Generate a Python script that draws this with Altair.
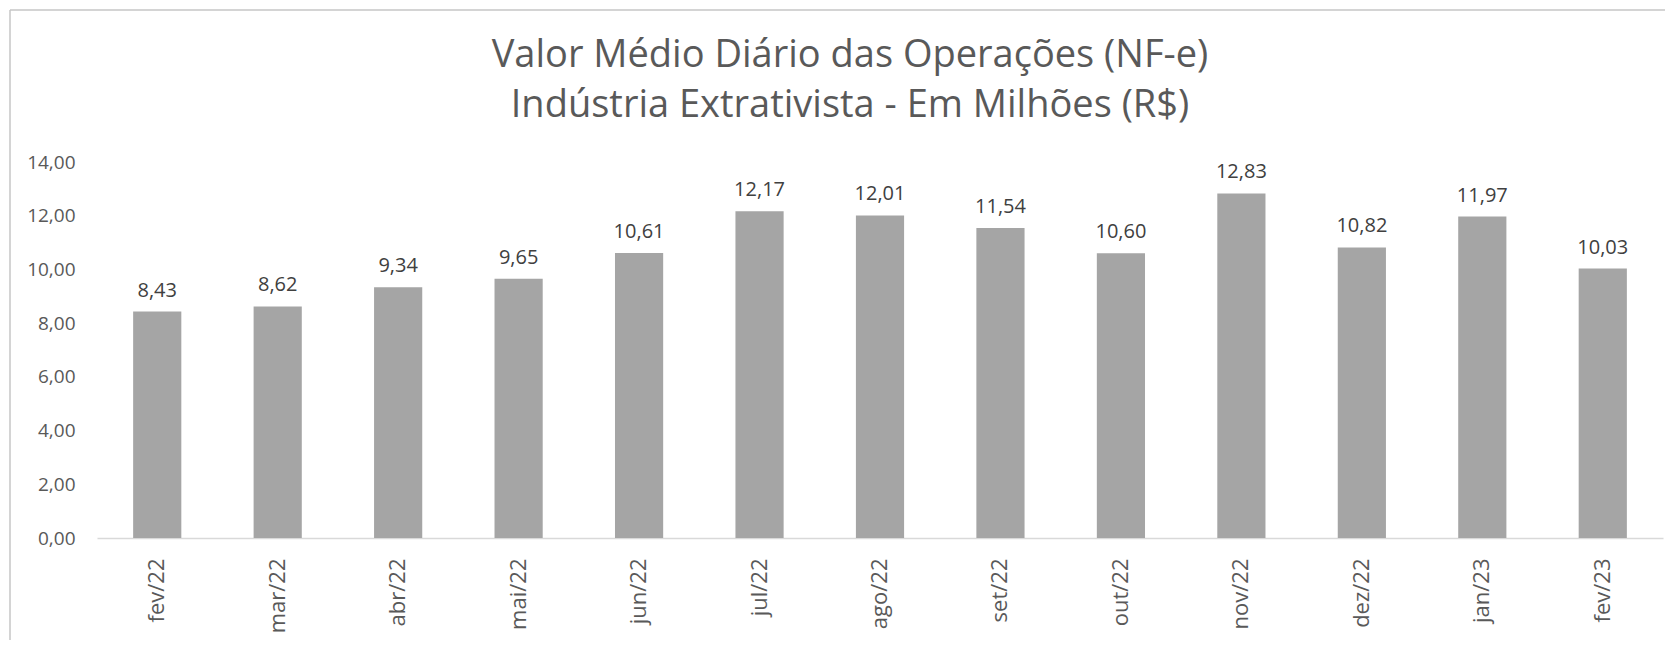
import altair as alt
import pandas as pd

# ---- data ----
MESES = ["fev/22", "mar/22", "abr/22", "mai/22", "jun/22", "jul/22", "ago/22",
         "set/22", "out/22", "nov/22", "dez/22", "jan/23", "fev/23"]
VALORES = [8.43, 8.62, 9.34, 9.65, 10.61, 12.17, 12.01, 11.54, 10.60, 12.83,
           10.82, 11.97, 10.03]
TITULO_1 = "Valor Médio Diário das Operações (NF-e)"
TITULO_2 = "Indústria Extrativista - Em Milhões (R$)"
Y_TICKS = [0, 2, 4, 6, 8, 10, 12, 14]

df = pd.DataFrame({"mes": MESES, "valor": VALORES})

FONT = "Open Sans"
W, H = 1566, 376

x_enc = alt.X(
    "mes:N", sort=MESES, title=None,
    scale=alt.Scale(paddingInner=0.6, paddingOuter=0.3),
    axis=alt.Axis(labelAngle=-90, labelFontSize=22, labelColor="#595959",
                  labelFont=FONT, labelPadding=20, ticks=False,
                  domainColor="#d9d9d9", domainWidth=1.5, grid=False),
)
y_enc = alt.Y(
    "valor:Q", title=None,
    scale=alt.Scale(domain=[0, 14], nice=False),
    axis=alt.Axis(values=Y_TICKS, labelFontSize=19, labelColor="#595959",
                  labelFont=FONT, labelPadding=22, ticks=False, domain=False,
                  grid=False,
                  labelExpr="replace(format(datum.value, '.2f'), '.', ',')"),
)

base = alt.Chart(df)

bars = base.mark_bar(color="#a5a5a5").encode(x=x_enc, y=y_enc)

labels = base.transform_calculate(
    rotulo="replace(format(datum.valor, '.2f'), '.', ',')"
).mark_text(
    font=FONT, fontSize=20, color="#404040", baseline="alphabetic", dy=-15
).encode(x=alt.X("mes:N", sort=MESES), y="valor:Q", text="rotulo:N")

one = alt.Data(values=[{}])
t1 = alt.Chart(one).mark_text(
    text=TITULO_1, font=FONT, fontSize=38, color="#595959",
    baseline="alphabetic", align="center"
).encode(x=alt.value(753), y=alt.value(-95))
t2 = alt.Chart(one).mark_text(
    text=TITULO_2, font=FONT, fontSize=38, color="#595959",
    baseline="alphabetic", align="center"
).encode(x=alt.value(753), y=alt.value(-45))

# outer chart-area frame (only its left and top edges fall inside the window)
frame_left = alt.Chart(one).mark_rule(color="#c6c6c6", strokeWidth=1.5).encode(
    x=alt.value(-87), y=alt.value(-152), y2=alt.value(H + 140))
frame_top = alt.Chart(one).mark_rule(color="#c6c6c6", strokeWidth=1.5).encode(
    y=alt.value(-152), x=alt.value(-87), x2=alt.value(W + 40))

chart = alt.layer(frame_left, frame_top, bars, labels, t1, t2).properties(
    width=W, height=H,
    background="white",
    padding={"left": 89, "right": 2, "top": 154, "bottom": 102},
    autosize=alt.AutoSizeParams(type="none"),
).configure_view(strokeWidth=0, stroke=None)

chart.save("out.html", embed_options={"renderer": "svg", "actions": False})
